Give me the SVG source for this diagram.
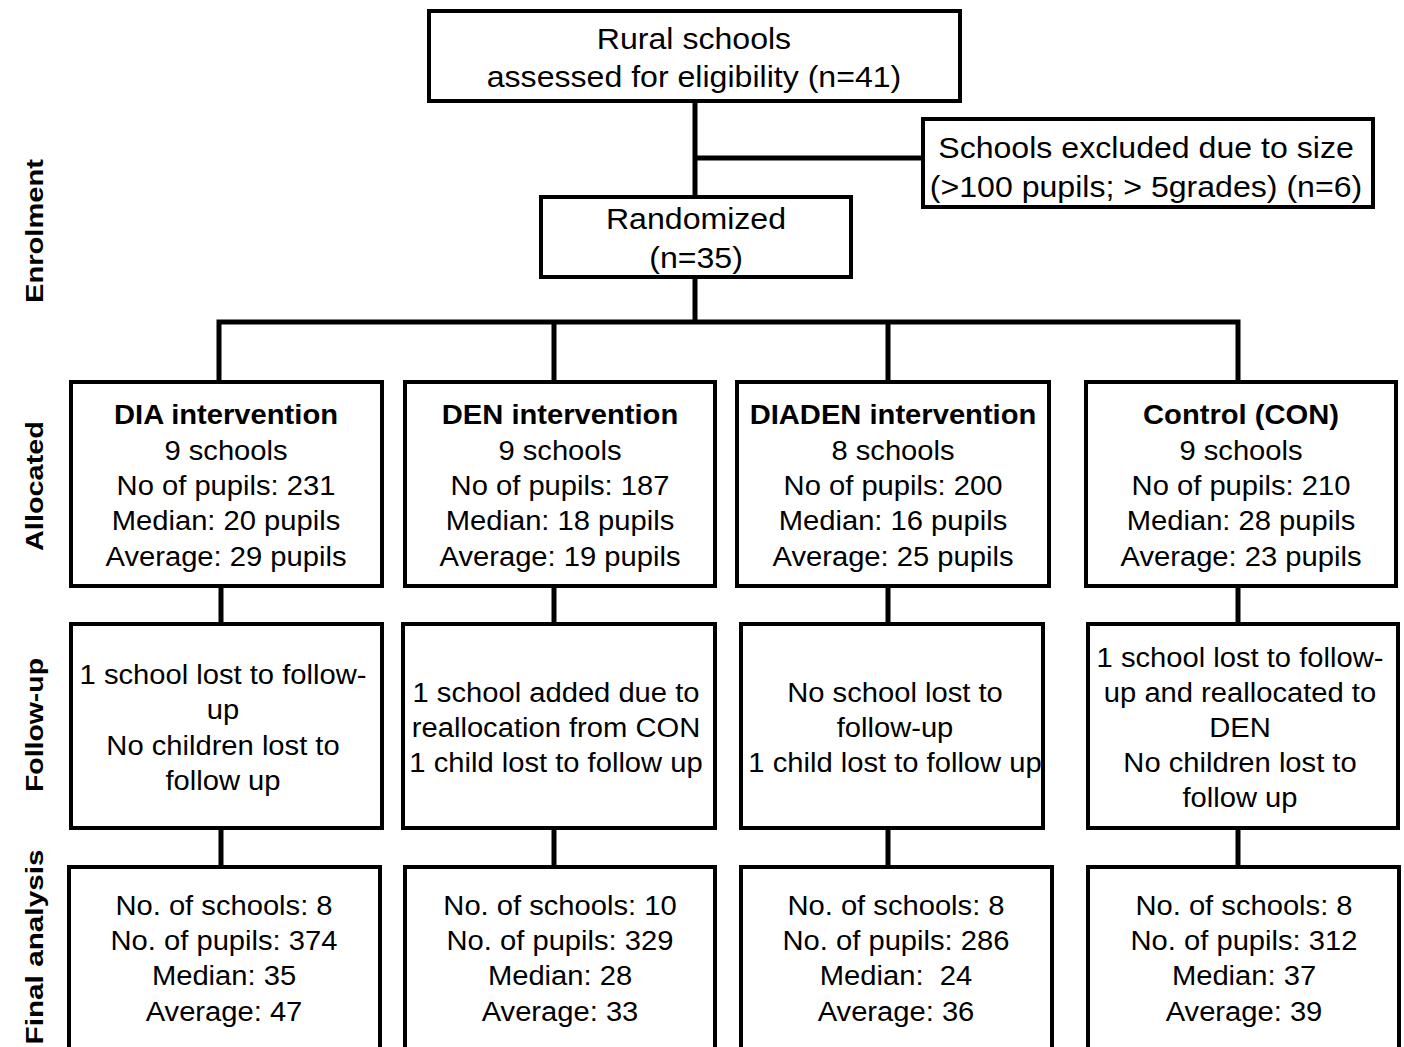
<svg xmlns="http://www.w3.org/2000/svg" width="1404" height="1047" viewBox="0 0 1404 1047">
<style>
.box{fill:#fff;stroke:#000;stroke-width:4}
.ln{stroke:#000;stroke-width:5;fill:none}
text{font-family:"Liberation Sans",Arial,sans-serif;font-size:27px;fill:#000;text-anchor:middle}
.b{font-weight:bold}
.big{font-size:30px}
.side{font-weight:bold;font-size:24px}
</style>
<rect width="1404" height="1047" fill="#fff"/>
<g id="connectors">
<path class="ln" d="M695,101 V322"/>
<path class="ln" d="M695,158 H922"/>
<path class="ln" d="M219,381 V322 H1238 V381"/>
<path class="ln" d="M554,322 V381"/>
<path class="ln" d="M888,322 V381"/>
<path class="ln" d="M221,586 V623"/>
<path class="ln" d="M554,586 V623"/>
<path class="ln" d="M888,586 V623"/>
<path class="ln" d="M1238,586 V623"/>
<path class="ln" d="M221,828 V866"/>
<path class="ln" d="M554,828 V866"/>
<path class="ln" d="M888,828 V866"/>
<path class="ln" d="M1238,828 V866"/>
</g>
<g id="labels">
<text class="side" transform="translate(43,231) rotate(-90)" textLength="144" lengthAdjust="spacingAndGlyphs">Enrolment</text>
<text class="side" transform="translate(43,486) rotate(-90)" textLength="130" lengthAdjust="spacingAndGlyphs">Allocated</text>
<text class="side" transform="translate(43,725) rotate(-90)" textLength="134" lengthAdjust="spacingAndGlyphs">Follow-up</text>
<text class="side" transform="translate(43,947) rotate(-90)" textLength="195" lengthAdjust="spacingAndGlyphs">Final analysis</text>
</g>
<g id="n-rural">
<rect class="box" x="429" y="11" width="531" height="90"/>
<text class="big" transform="translate(694,49) scale(1.07,1)">Rural schools</text>
<text class="big" transform="translate(694,87) scale(1.07,1)">assessed for eligibility (n=41)</text>
</g>
<g id="n-excluded">
<rect class="box" x="923" y="119" width="450" height="88"/>
<text class="big" transform="translate(1146,158) scale(1.07,1)">Schools excluded due to size</text>
<text class="big" transform="translate(1146,197) scale(1.07,1)">(&gt;100 pupils; &gt; 5grades) (n=6)</text>
</g>
<g id="n-random">
<rect class="box" x="541" y="197" width="310" height="80"/>
<text class="big" transform="translate(696,229) scale(1.07,1)">Randomized</text>
<text class="big" transform="translate(696,268) scale(1.07,1)">(n=35)</text>
</g>
<g id="n-dia">
<rect class="box" x="71" y="382" width="311" height="204"/>
<text class="b" transform="translate(226,424) scale(1.08,1)">DIA intervention</text>
<text transform="translate(226,460) scale(1.08,1)">9 schools</text>
<text transform="translate(226,495) scale(1.08,1)">No of pupils: 231</text>
<text transform="translate(226,530) scale(1.08,1)">Median: 20 pupils</text>
<text transform="translate(226,566) scale(1.08,1)">Average: 29 pupils</text>
</g>
<g id="n-den">
<rect class="box" x="405" y="382" width="310" height="204"/>
<text class="b" transform="translate(560,424) scale(1.08,1)">DEN intervention</text>
<text transform="translate(560,460) scale(1.08,1)">9 schools</text>
<text transform="translate(560,495) scale(1.08,1)">No of pupils: 187</text>
<text transform="translate(560,530) scale(1.08,1)">Median: 18 pupils</text>
<text transform="translate(560,566) scale(1.08,1)">Average: 19 pupils</text>
</g>
<g id="n-diaden">
<rect class="box" x="737" y="382" width="312" height="204"/>
<text class="b" transform="translate(893,424) scale(1.08,1)">DIADEN intervention</text>
<text transform="translate(893,460) scale(1.08,1)">8 schools</text>
<text transform="translate(893,495) scale(1.08,1)">No of pupils: 200</text>
<text transform="translate(893,530) scale(1.08,1)">Median: 16 pupils</text>
<text transform="translate(893,566) scale(1.08,1)">Average: 25 pupils</text>
</g>
<g id="n-con">
<rect class="box" x="1086" y="382" width="310" height="204"/>
<text class="b" transform="translate(1241,424) scale(1.08,1)">Control (CON)</text>
<text transform="translate(1241,460) scale(1.08,1)">9 schools</text>
<text transform="translate(1241,495) scale(1.08,1)">No of pupils: 210</text>
<text transform="translate(1241,530) scale(1.08,1)">Median: 28 pupils</text>
<text transform="translate(1241,566) scale(1.08,1)">Average: 23 pupils</text>
</g>
<g id="f-dia">
<rect class="box" x="71" y="624" width="311" height="204"/>
<text transform="translate(223,684) scale(1.08,1)">1 school lost to follow-</text>
<text transform="translate(223,719) scale(1.08,1)">up</text>
<text transform="translate(223,755) scale(1.08,1)">No children lost to</text>
<text transform="translate(223,790) scale(1.08,1)">follow up</text>
</g>
<g id="f-den">
<rect class="box" x="403" y="624" width="312" height="204"/>
<text transform="translate(556,702) scale(1.08,1)">1 school added due to</text>
<text transform="translate(556,737) scale(1.08,1)">reallocation from CON</text>
<text transform="translate(556,772) scale(1.08,1)">1 child lost to follow up</text>
</g>
<g id="f-diaden">
<rect class="box" x="741" y="624" width="302" height="204"/>
<text transform="translate(895,702) scale(1.08,1)">No school lost to</text>
<text transform="translate(895,737) scale(1.08,1)">follow-up</text>
<text transform="translate(895,772) scale(1.08,1)">1 child lost to follow up</text>
</g>
<g id="f-con">
<rect class="box" x="1088" y="624" width="310" height="204"/>
<text transform="translate(1240,667) scale(1.08,1)">1 school lost to follow-</text>
<text transform="translate(1240,702) scale(1.08,1)">up and reallocated to</text>
<text transform="translate(1240,737) scale(1.08,1)">DEN</text>
<text transform="translate(1240,772) scale(1.08,1)">No children lost to</text>
<text transform="translate(1240,807) scale(1.08,1)">follow up</text>
</g>
<g id="a-dia">
<rect class="box" x="69" y="867" width="311" height="190"/>
<text transform="translate(224,915) scale(1.08,1)">No. of schools: 8</text>
<text transform="translate(224,950) scale(1.08,1)">No. of pupils: 374</text>
<text transform="translate(224,985) scale(1.08,1)">Median: 35</text>
<text transform="translate(224,1021) scale(1.08,1)">Average: 47</text>
</g>
<g id="a-den">
<rect class="box" x="405" y="867" width="310" height="190"/>
<text transform="translate(560,915) scale(1.08,1)">No. of schools: 10</text>
<text transform="translate(560,950) scale(1.08,1)">No. of pupils: 329</text>
<text transform="translate(560,985) scale(1.08,1)">Median: 28</text>
<text transform="translate(560,1021) scale(1.08,1)">Average: 33</text>
</g>
<g id="a-diaden">
<rect class="box" x="741" y="867" width="311" height="190"/>
<text transform="translate(896,915) scale(1.08,1)">No. of schools: 8</text>
<text transform="translate(896,950) scale(1.08,1)">No. of pupils: 286</text>
<text transform="translate(896,985) scale(1.08,1)" xml:space="preserve">Median:  24</text>
<text transform="translate(896,1021) scale(1.08,1)">Average: 36</text>
</g>
<g id="a-con">
<rect class="box" x="1088" y="867" width="311" height="190"/>
<text transform="translate(1244,915) scale(1.08,1)">No. of schools: 8</text>
<text transform="translate(1244,950) scale(1.08,1)">No. of pupils: 312</text>
<text transform="translate(1244,985) scale(1.08,1)">Median: 37</text>
<text transform="translate(1244,1021) scale(1.08,1)">Average: 39</text>
</g>
</svg>
